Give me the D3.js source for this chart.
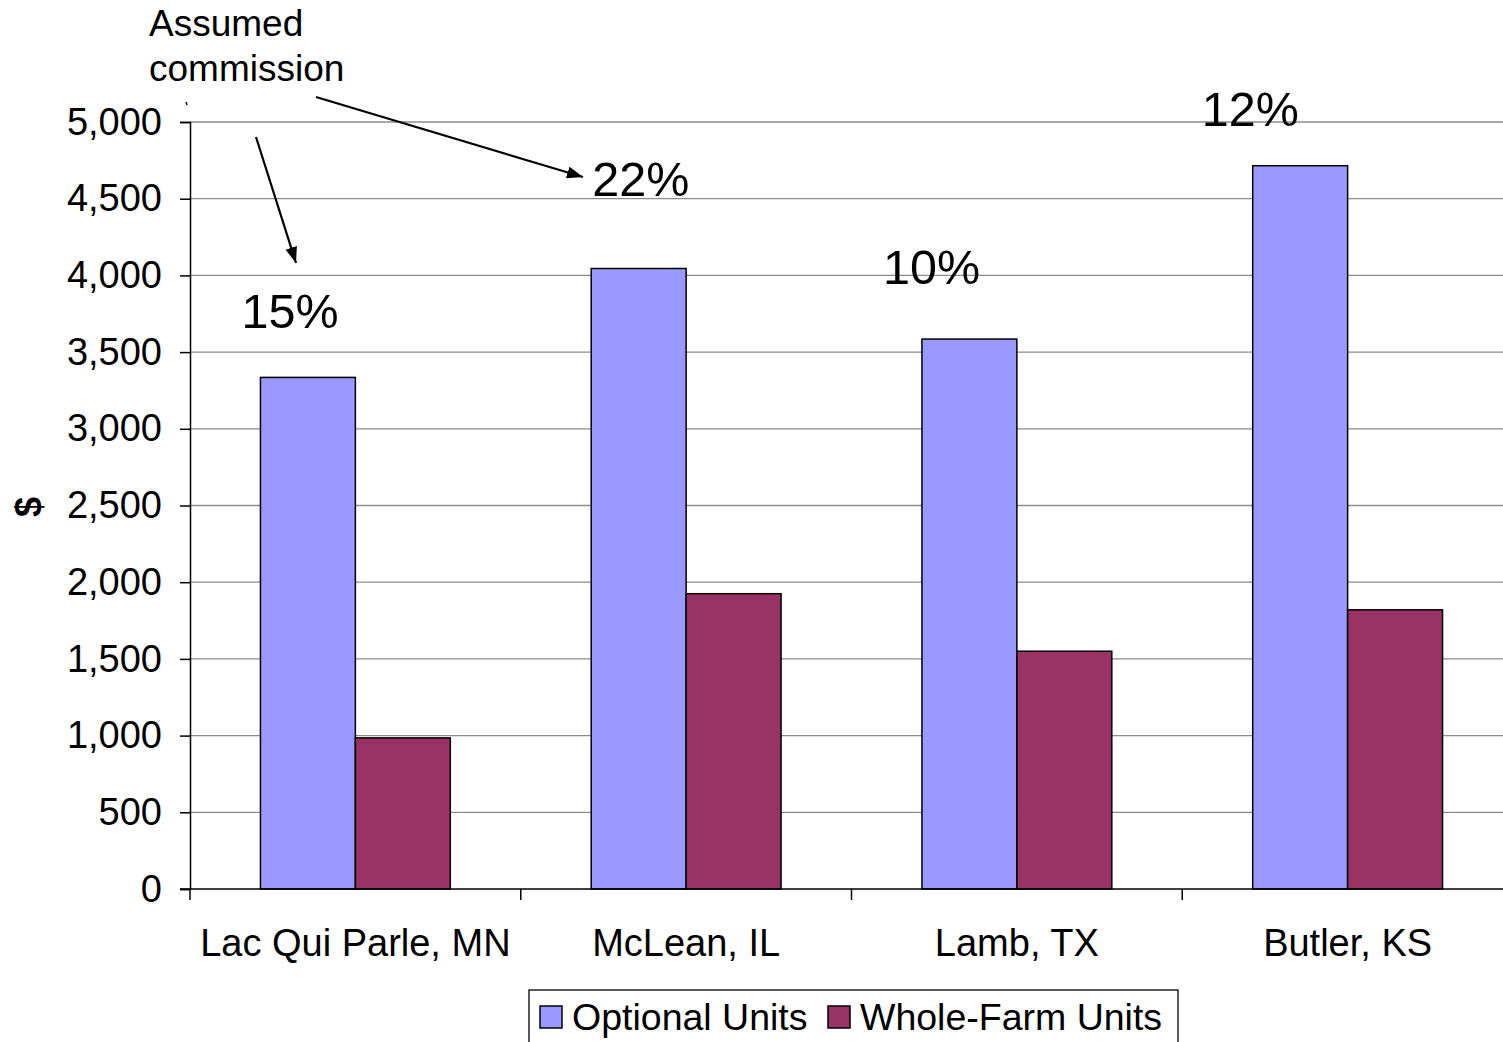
<!DOCTYPE html>
<html>
<head>
<meta charset="utf-8">
<script src="https://cdn.jsdelivr.net/npm/d3@7"></script>
<style>
  html, body { margin: 0; padding: 0; background: #fff; }
  svg { display: block; font-family: "Liberation Sans", Arial, sans-serif; }
</style>
</head>
<body>
<svg id="chart" width="1503" height="1042"></svg>
<script>
// County names along the x axis
const counties = ["Lac Qui Parle, MN", "McLean, IL", "Lamb, TX", "Butler, KS"];
// Series values in dollars
const optionalUnits = [3335, 4045, 3585, 4715];
const wholeFarmUnits = [985, 1925, 1550, 1820];
// Assumed commission for each county
const commissions = ["15%", "22%", "10%", "12%"];
// Y axis ticks
const yTicks = [0, 500, 1000, 1500, 2000, 2500, 3000, 3500, 4000, 4500, 5000];
const seriesNames = ["Optional Units", "Whole-Farm Units"];
const seriesColors = ["#9999ff", "#993366"];

const svg = d3.select("#chart");
const margin = { left: 190, top: 122, right: 1513, bottom: 889 };

const x = d3.scaleBand().domain(counties).range([margin.left, margin.right]);
const y = d3.scaleLinear().domain([0, 5000]).range([margin.bottom, margin.top]);
// two bars side by side in the middle of each county band
const gapFrac = 0.213;
const inner = d3.scaleBand().domain([0, 1])
  .range([x.bandwidth() * gapFrac, x.bandwidth() * (1 - gapFrac)]);

// horizontal gridlines
svg.append("g")
  .selectAll("line")
  .data(yTicks.filter(d => d > 0))
  .join("line")
  .attr("x1", margin.left).attr("x2", 1503)
  .attr("y1", d => y(d)).attr("y2", d => y(d))
  .attr("stroke", "#8c8c8c").attr("stroke-width", 1.3);

// bars
const groups = svg.append("g").selectAll("g")
  .data(counties)
  .join("g")
  .attr("transform", d => `translate(${x(d)},0)`);

groups.selectAll("rect")
  .data((d, i) => [optionalUnits[i], wholeFarmUnits[i]])
  .join("rect")
  .attr("x", (d, j) => inner(j))
  .attr("width", inner.bandwidth())
  .attr("y", d => y(d))
  .attr("height", d => y(0) - y(d))
  .attr("fill", (d, j) => seriesColors[j])
  .attr("stroke", "#000")
  .attr("stroke-width", 1.5);

// y axis
const yAxis = d3.axisLeft(y).tickValues(yTicks).tickSize(10).tickPadding(18)
  .tickFormat(d3.format(","));
const gy = svg.append("g").attr("transform", `translate(${margin.left},0)`).call(yAxis);
gy.select(".domain").attr("stroke", "#000").attr("stroke-width", 1.5);
gy.selectAll(".tick line").attr("stroke", "#000").attr("stroke-width", 1.5);
gy.selectAll(".tick text").attr("font-size", 38).attr("fill", "#000")
  .attr("font-family", "Liberation Sans, Arial, sans-serif");

// x axis line and category separators
const gx = svg.append("g").attr("transform", `translate(0,${margin.bottom})`);
gx.append("line").attr("x1", margin.left - 10).attr("x2", 1503)
  .attr("y1", 0).attr("y2", 0).attr("stroke", "#000").attr("stroke-width", 1.5);
gx.selectAll("line.sep")
  .data(counties)
  .join("line").attr("class", "sep")
  .attr("x1", d => x(d)).attr("x2", d => x(d))
  .attr("y1", 0).attr("y2", 11)
  .attr("stroke", "#000").attr("stroke-width", 1.5);
gx.selectAll("text")
  .data(counties)
  .join("text")
  .attr("x", d => x(d) + x.bandwidth() / 2)
  .attr("y", 67)
  .attr("text-anchor", "middle")
  .attr("font-size", 38)
  .attr("fill", "#000")
  .text(d => d);

// y axis title
svg.append("text")
  .attr("transform", "translate(41,507) rotate(-90)")
  .attr("text-anchor", "middle")
  .attr("font-size", 36)
  .attr("font-weight", "bold")
  .text("$");

// commission labels, placed above each county's bars
const labelPos = [
  { dx: 100, v: 3655 },
  { dx: 120, v: 4520 },
  { dx: 80, v: 3945 },
  { dx: 68, v: 4975 }
];
svg.append("g").selectAll("text")
  .data(commissions)
  .join("text")
  .attr("x", (d, i) => x(counties[i]) + labelPos[i].dx)
  .attr("y", (d, i) => y(labelPos[i].v))
  .attr("text-anchor", "middle")
  .attr("font-size", 48.5)
  .attr("fill", "#000")
  .text(d => d);

// annotation text and arrows
svg.append("text").attr("x", 149).attr("y", 36).attr("font-size", 37).text("Assumed");
svg.append("text").attr("x", 149).attr("y", 81).attr("font-size", 37).text("commission");

svg.append("defs").append("marker")
  .attr("id", "arrow")
  .attr("viewBox", "0 0 10 10")
  .attr("refX", 10).attr("refY", 5)
  .attr("markerWidth", 16).attr("markerHeight", 12)
  .attr("markerUnits", "userSpaceOnUse")
  .attr("orient", "auto")
  .attr("preserveAspectRatio", "none")
  .append("path").attr("d", "M0,0 L10,5 L0,10 Z").attr("fill", "#000");

const arrowPaths = [
  [[316, 97], [583, 177]],
  [[256, 137], [296, 263]]
];
svg.append("g").selectAll("line")
  .data(arrowPaths)
  .join("line")
  .attr("x1", d => d[0][0]).attr("y1", d => d[0][1])
  .attr("x2", d => d[1][0]).attr("y2", d => d[1][1])
  .attr("stroke", "#000").attr("stroke-width", 2.2)
  .attr("marker-end", "url(#arrow)");
svg.append("line").attr("x1", 186).attr("y1", 102).attr("x2", 187).attr("y2", 105)
  .attr("stroke", "#000").attr("stroke-width", 1.5);

// legend
const legend = svg.append("g");
legend.append("rect").attr("x", 529).attr("y", 990).attr("width", 649).attr("height", 70)
  .attr("fill", "#fff").attr("stroke", "#000").attr("stroke-width", 1.3);
const legendX = [540, 828];
const items = legend.selectAll("g.item")
  .data(seriesNames)
  .join("g").attr("class", "item")
  .attr("transform", (d, i) => `translate(${legendX[i]},1006)`);
items.append("rect").attr("width", 22).attr("height", 22)
  .attr("fill", (d, i) => seriesColors[i]).attr("stroke", "#000").attr("stroke-width", 1.5);
items.append("text").attr("x", 32).attr("y", 24).attr("font-size", 37.5).text(d => d);
</script>
</body>
</html>
